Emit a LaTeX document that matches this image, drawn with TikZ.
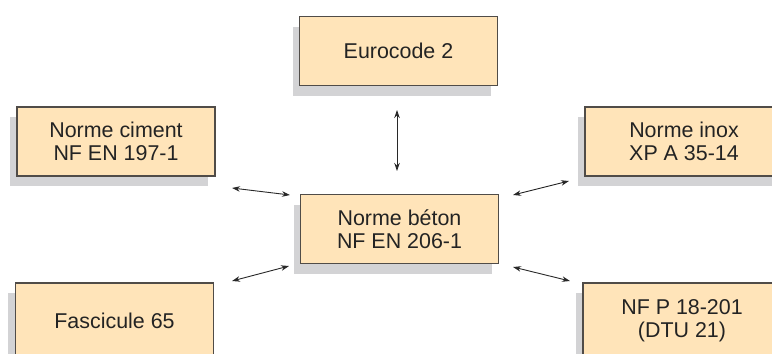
\documentclass[tikz,border=0pt]{standalone}
\usepackage{fontspec}
\setmainfont{Liberation Sans}
\usetikzlibrary{shadows,arrows.meta}
\definecolor{boxfill}{RGB}{255,228,185}
\definecolor{boxline}{RGB}{80,76,72}
\definecolor{shadowgray}{RGB}{211,211,213}
\definecolor{txt}{RGB}{35,35,35}
\definecolor{arr}{RGB}{40,40,40}
\tikzset{
  stdbox/.style={draw=boxline, line width=1.1bp, fill=boxfill,
    minimum width=198bp, minimum height=69bp, inner sep=0pt,
    align=center, text=txt, font=\fontsize{21.5}{23.5}\selectfont,
    general shadow={shadow xshift=-7bp, shadow yshift=-10bp, fill=shadowgray}},
  tallbox/.style={stdbox, minimum height=75bp},
  link/.style={draw=arr, line width=0.9bp, {Stealth[length=8bp,width=5.5bp]}-{Stealth[length=8bp,width=5.5bp]}}
}
\begin{document}
\begin{tikzpicture}[x=1bp,y=-1bp]
\useasboundingbox (0,0) rectangle (772,353);
\node[stdbox] (euro) at (398.5,51) {Eurocode 2};
\node[stdbox] (ciment) at (116,141.5) {Norme ciment\\NF EN 197-1};
\node[stdbox] (beton) at (399.5,229) {Norme béton\\NF EN 206-1};
\node[stdbox] (inox) at (684,141.5) {Norme inox\\XP A 35-14};
\node[tallbox] (fasc) at (114.5,320.5) {Fascicule 65};
\node[tallbox] (dtu) at (682,320.5) {NF P 18-201\\(DTU 21)};
\coordinate (v1) at (397,110);
\coordinate (v2) at (397,171);
\coordinate (c1) at (232,188);
\coordinate (c2) at (290,195);
\coordinate (f1) at (232,281);
\coordinate (f2) at (289,266);
\coordinate (i1) at (513,195);
\coordinate (i2) at (569,181);
\coordinate (d1) at (513,267);
\coordinate (d2) at (570,281);
\draw[link] (v1) -- (v2);
\draw[link] (c1) -- (c2);
\draw[link] (f1) -- (f2);
\draw[link] (i1) -- (i2);
\draw[link] (d1) -- (d2);
\end{tikzpicture}
\end{document}
